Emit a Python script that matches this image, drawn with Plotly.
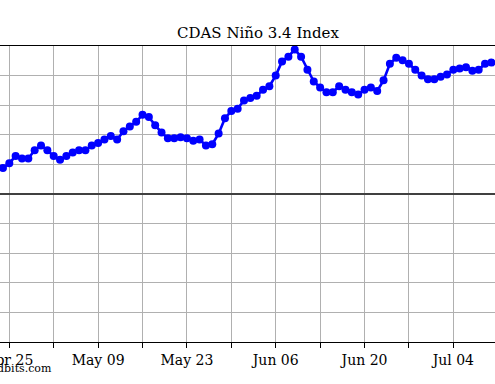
import plotly.graph_objects as go
import pandas as pd

start_date = "2023-04-24"
nino34 = [
    0.22, 0.26, 0.32, 0.30, 0.30, 0.37, 0.41, 0.37, 0.32, 0.29,
    0.32, 0.35, 0.37, 0.37, 0.41, 0.43, 0.46, 0.49, 0.46, 0.53,
    0.57, 0.61, 0.67, 0.65, 0.58, 0.52, 0.47, 0.47, 0.48, 0.47,
    0.45, 0.46, 0.41, 0.42, 0.51, 0.64, 0.70, 0.72, 0.79, 0.81,
    0.83, 0.88, 0.91, 1.00, 1.12, 1.16, 1.22, 1.16, 1.05, 0.95,
    0.90, 0.86, 0.86, 0.91, 0.88, 0.86, 0.84, 0.88, 0.90, 0.87,
    0.96, 1.10, 1.15, 1.13, 1.10, 1.05, 1.00, 0.97, 0.97, 0.99,
    1.01, 1.05, 1.06, 1.07, 1.04, 1.05, 1.10, 1.11,
]
dates = pd.date_range(start_date, periods=len(nino34), freq="D")

tick_dates = pd.date_range("2023-04-25", "2023-07-11", freq="7D")
tick_text = [d.strftime("%b %d") if i % 2 == 0 else "" for i, d in enumerate(tick_dates)]

title_text = "CDAS Niño 3.4 Index"
credit_text = "tropicaltidbits.com"

fig = go.Figure()
fig.add_trace(go.Scatter(
    x=dates, y=nino34, mode="lines+markers",
    line=dict(color="#0000ff", width=2.6),
    marker=dict(color="#0000ff", size=8),
    showlegend=False, cliponaxis=True,
))

font_family = "DejaVu Serif, serif"
fig.update_layout(
    width=495, height=384,
    margin=dict(l=0, r=0, t=46, b=42),
    paper_bgcolor="white", plot_bgcolor="white",
    font=dict(family=font_family, color="black", size=14),
    title=dict(text=title_text, x=258/495, xanchor="center", xref="paper",
               y=1 - 33/384, yref="container", yanchor="middle",
               font=dict(family=font_family, size=15, color="black")),
    annotations=[dict(text=credit_text, xref="paper", yref="paper",
                      x=54/495, y=-26/296, xanchor="right", yanchor="middle",
                      showarrow=False, font=dict(family=font_family, size=11, color="black"))],
)
fig.update_xaxes(
    type="date",
    range=["2023-04-23 12:49", "2023-07-10 13:41"],
    tickmode="array", tickvals=tick_dates, ticktext=tick_text,
    ticks="outside", ticklen=5, tickwidth=1, tickcolor="black",
    showgrid=True, gridcolor="#b0b0b0", gridwidth=1,
    showline=True, linecolor="black", linewidth=1.3, mirror=True,
    ticklabeloverflow="allow", automargin=False,
    tickfont=dict(family=font_family, size=14, color="black"),
)
fig.update_yaxes(
    range=[-1.25, 1.25], dtick=0.25, tick0=0,
    showticklabels=False, ticks="",
    showgrid=True, gridcolor="#b0b0b0", gridwidth=1,
    zeroline=True, zerolinecolor="#404040", zerolinewidth=1.5,
    showline=False, automargin=False,
)
fig.write_html("out.html", config={"displayModeBar": False},
               post_script="document.body.style.margin='0';document.body.style.overflow='hidden';")
